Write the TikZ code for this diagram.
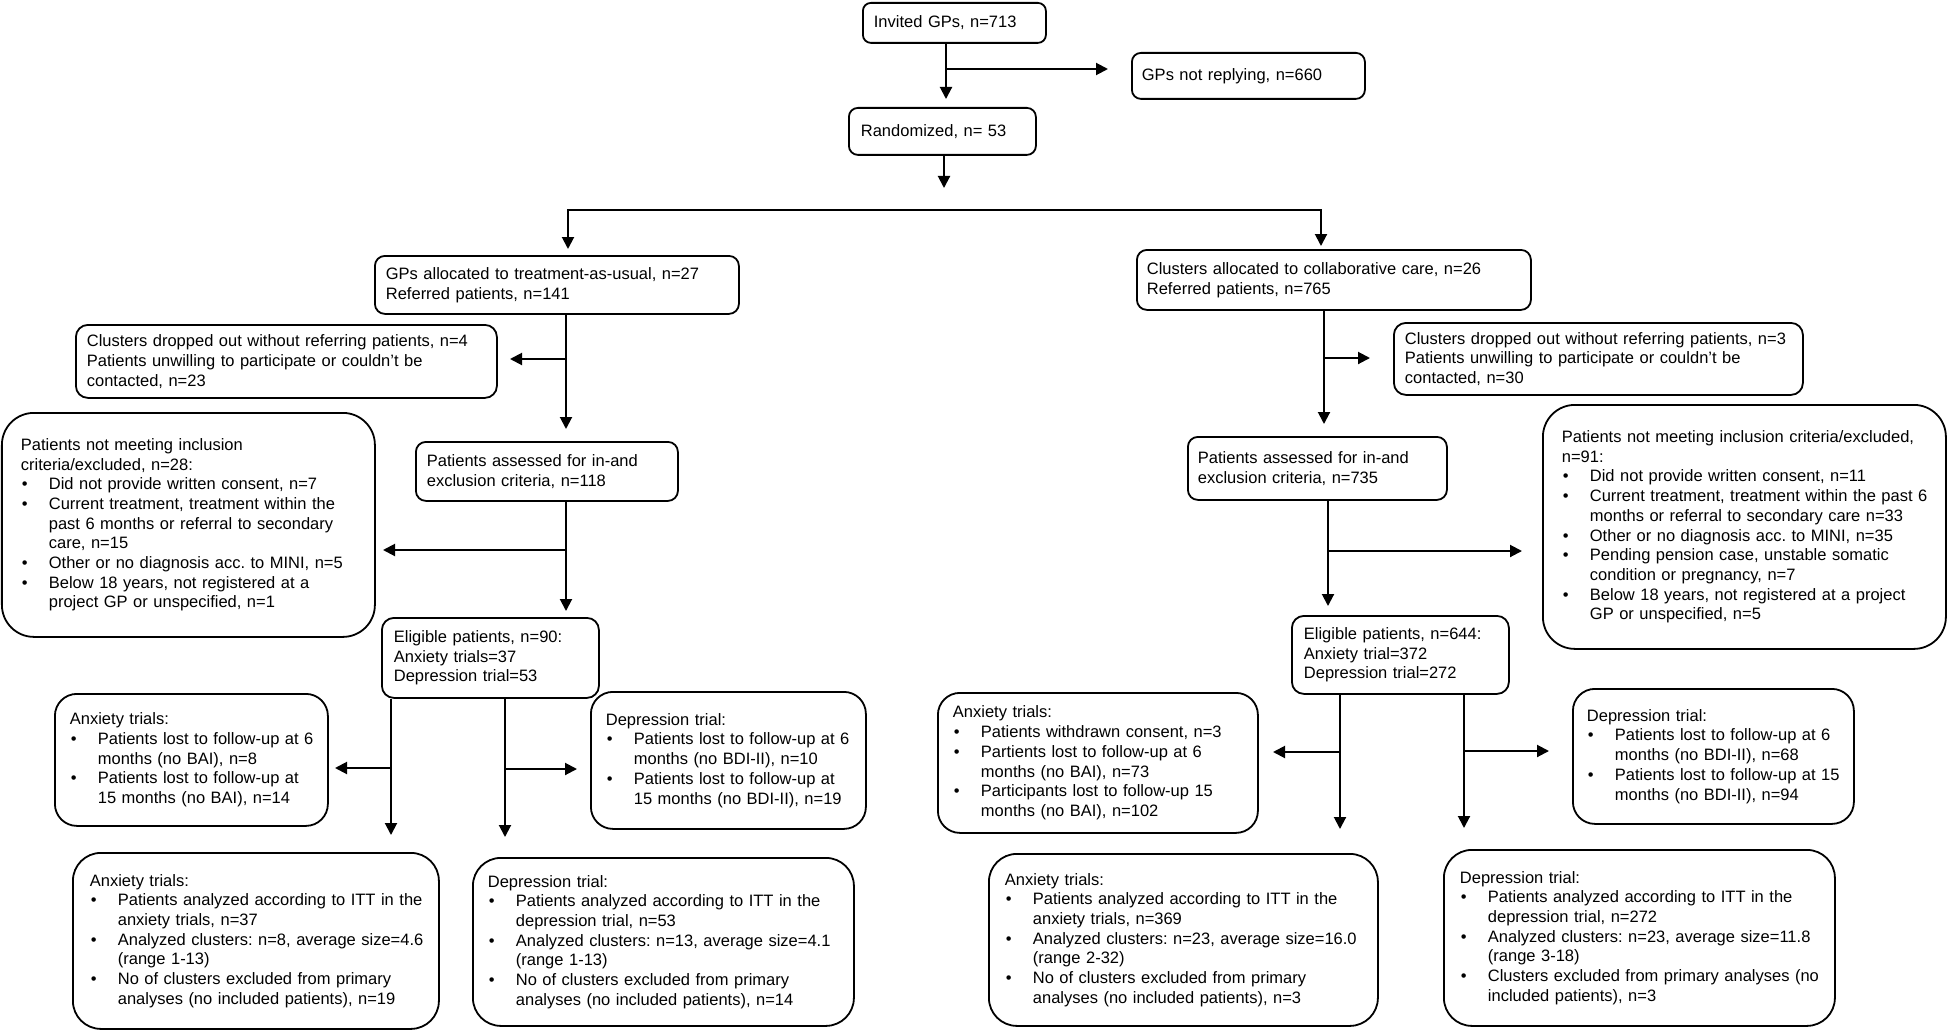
\documentclass[tikz,border=0pt]{standalone}
\usepackage{fontspec}
\setmainfont{Liberation Sans}
\usetikzlibrary{arrows.meta}
\newcommand{\bul}[1]{\makebox[28pt][l]{\hspace{1pt}•}#1}
\newcommand{\cont}[1]{\hspace*{28pt}#1}
\tikzset{
  cbox/.style={draw=black, line width=1.8pt, rounded corners=#1, anchor=north west,
    inner xsep=0pt, inner ysep=0pt, align=left,
    font=\fontsize{16.5}{19.7}\selectfont\frenchspacing},
  lpad/.style={execute at begin node={\leftskip=#1pt\relax}},
  arr/.style={line width=2pt, -{Triangle[length=12pt,width=12pt]}},
  arrtwo/.style={line width=2pt, {Triangle[length=12pt,width=12pt]}-{Triangle[length=12pt,width=12pt]}},
}
\begin{document}
\begin{tikzpicture}[x=1pt,y=-1pt]
\useasboundingbox (0,0) rectangle (1947,1030);
\fill[white] (0,0) rectangle (1947,1030);

% ---------- boxes ----------
\node[cbox=8pt, lpad=11, minimum width=183pt, minimum height=40pt, text width=183pt] (inv) at (862,2) {Invited GPs, n=713};
\node[cbox=9pt, lpad=10, minimum width=233pt, minimum height=46pt, text width=233pt] (norep) at (1131,52) {GPs not replying, n=660};
\node[cbox=9pt, lpad=12, minimum width=187pt, minimum height=47pt, text width=187pt] (rand) at (848,107) {Randomized, n= 53};

\node[cbox=10pt, lpad=11, minimum width=364pt, minimum height=58pt, text width=364pt] (tau) at (374,255)
 {GPs allocated to treatment-as-usual, n=27\\Referred patients, n=141};
\node[cbox=10pt, lpad=10, minimum width=394pt, minimum height=60pt, text width=394pt] (cc) at (1136,249)
 {Clusters allocated to collaborative care, n=26\\Referred patients, n=765};

\node[cbox=12pt, lpad=11, minimum width=421pt, minimum height=73pt, text width=421pt] (dropL) at (75,324)
 {Clusters dropped out without referring patients, n=4\\Patients unwilling to participate or couldn’t be\\contacted, n=23};
\node[cbox=12pt, lpad=11, minimum width=409pt, minimum height=72pt, text width=409pt] (dropR) at (1393,322)
 {Clusters dropped out without referring patients, n=3\\Patients unwilling to participate or couldn’t be\\contacted, n=30};

\node[cbox=32pt, lpad=19, minimum width=373pt, minimum height=224pt, text width=373pt] (exclL) at (1,412)
 {Patients not meeting inclusion\\
  criteria/excluded, n=28:\\
  \bul{Did not provide written consent, n=7}\\
  \bul{Current treatment, treatment within the}\\
  \cont{past 6 months or referral to secondary}\\
  \cont{care, n=15}\\
  \bul{Other or no diagnosis acc. to MINI, n=5}\\
  \bul{Below 18 years, not registered at a}\\
  \cont{project GP or unspecified, n=1}};

\node[cbox=10pt, lpad=11, minimum width=262pt, minimum height=59pt, text width=262pt] (assL) at (415,441)
 {Patients assessed for in-and\\exclusion criteria, n=118};
\node[cbox=10pt, lpad=10, minimum width=259pt, minimum height=63pt, text width=259pt] (assR) at (1187,436)
 {Patients assessed for in-and\\exclusion criteria, n=735};

\node[cbox=32pt, lpad=19, minimum width=403pt, minimum height=244pt, text width=403pt] (exclR) at (1542,404)
 {Patients not meeting inclusion criteria/excluded,\\
  n=91:\\
  \bul{Did not provide written consent, n=11}\\
  \bul{Current treatment, treatment within the past 6}\\
  \cont{months or referral to secondary care n=33}\\
  \bul{Other or no diagnosis acc. to MINI, n=35}\\
  \bul{Pending pension case, unstable somatic}\\
  \cont{condition or pregnancy, n=7}\\
  \bul{Below 18 years, not registered at a project}\\
  \cont{GP or unspecified, n=5}};

\node[cbox=12pt, lpad=12, minimum width=217pt, minimum height=80pt, text width=217pt] (eligL) at (381,617)
 {Eligible patients, n=90:\\Anxiety trials=37\\Depression trial=53};
\node[cbox=12pt, lpad=12, minimum width=217pt, minimum height=78pt, text width=217pt] (eligR) at (1291,615)
 {Eligible patients, n=644:\\Anxiety trial=372\\Depression trial=272};

\node[cbox=22pt, lpad=15, minimum width=273pt, minimum height=132pt, text width=273pt] (anxL) at (54,693)
 {Anxiety trials:\\
  \bul{Patients lost to follow-up at 6}\\
  \cont{months (no BAI), n=8}\\
  \bul{Patients lost to follow-up at}\\
  \cont{15 months (no BAI), n=14}};
\node[cbox=22pt, lpad=15, minimum width=275pt, minimum height=137pt, text width=275pt] (depL) at (590,691)
 {Depression trial:\\
  \bul{Patients lost to follow-up at 6}\\
  \cont{months (no BDI-II), n=10}\\
  \bul{Patients lost to follow-up at}\\
  \cont{15 months (no BDI-II), n=19}};
\node[cbox=22pt, lpad=15, minimum width=320pt, minimum height=140pt, text width=320pt] (anxR) at (937,692)
 {Anxiety trials:\\
  \bul{Patients withdrawn consent, n=3}\\
  \bul{Partients lost to follow-up at 6}\\
  \cont{months (no BAI), n=73}\\
  \bul{Participants lost to follow-up 15}\\
  \cont{months (no BAI), n=102}};
\node[cbox=22pt, lpad=14, minimum width=281pt, minimum height=135pt, text width=281pt] (depR) at (1572,688)
 {Depression trial:\\
  \bul{Patients lost to follow-up at 6}\\
  \cont{months (no BDI-II), n=68}\\
  \bul{Patients lost to follow-up at 15}\\
  \cont{months (no BDI-II), n=94}};

\node[cbox=28pt, lpad=17, minimum width=366pt, minimum height=176pt, text width=366pt] (fanxL) at (72,852)
 {Anxiety trials:\\
  \bul{Patients analyzed according to ITT in the}\\
  \cont{anxiety trials, n=37}\\
  \bul{Analyzed clusters: n=8, average size=4.6}\\
  \cont{(range 1-13)}\\
  \bul{No of clusters excluded from primary}\\
  \cont{analyses (no included patients), n=19}};
\node[cbox=28pt, lpad=15, minimum width=381pt, minimum height=168pt, text width=381pt] (fdepL) at (472,857)
 {Depression trial:\\
  \bul{Patients analyzed according to ITT in the}\\
  \cont{depression trial, n=53}\\
  \bul{Analyzed clusters: n=13, average size=4.1}\\
  \cont{(range 1-13)}\\
  \bul{No of clusters excluded from primary}\\
  \cont{analyses (no included patients), n=14}};
\node[cbox=28pt, lpad=16, minimum width=389pt, minimum height=172pt, text width=389pt] (fanxR) at (988,853)
 {Anxiety trials:\\
  \bul{Patients analyzed according to ITT in the}\\
  \cont{anxiety trials, n=369}\\
  \bul{Analyzed clusters: n=23, average size=16.0}\\
  \cont{(range 2-32)}\\
  \bul{No of clusters excluded from primary}\\
  \cont{analyses (no included patients), n=3}};
\node[cbox=28pt, lpad=16, minimum width=391pt, minimum height=176pt, text width=391pt] (fdepR) at (1443,849)
 {Depression trial:\\
  \bul{Patients analyzed according to ITT in the}\\
  \cont{depression trial, n=272}\\
  \bul{Analyzed clusters: n=23, average size=11.8}\\
  \cont{(range 3-18)}\\
  \bul{Clusters excluded from primary analyses (no}\\
  \cont{included patients), n=3}};

% ---------- connectors ----------
\coordinate (p1) at (946,69);
\coordinate (p1t) at (946,99);
\coordinate (p2t) at (1108,69);
\draw[arr] (inv.south -| p1) -- (p1t);
\draw[arr] (p1) -- (p2t);

\coordinate (p3t) at (944,188);
\draw[arr] (rand.south -| p3t) -- (p3t);

\coordinate (hl) at (568,210);
\coordinate (hr) at (1321,210);
\coordinate (hlt) at (568,249);
\coordinate (hrt) at (1321,246);
\draw[arrtwo] (hlt) -- (hl) -- (hr) -- (hrt);

% left column
\coordinate (a1) at (566,359);
\coordinate (a1t) at (566,429);
\coordinate (a2t) at (510,359);
\draw[arr] (tau.south -| a1) -- (a1t);
\draw[arr] (a1) -- (a2t);

\coordinate (b1) at (566,550);
\coordinate (b1t) at (566,611);
\coordinate (b2t) at (383,550);
\draw[arr] (assL.south -| b1) -- (b1t);
\draw[arr] (b1) -- (b2t);

\coordinate (c1) at (391,768);
\coordinate (c1t) at (391,835);
\coordinate (c2t) at (335,768);
\draw[arr] (eligL.south -| c1) -- (c1t);
\draw[arr] (c1) -- (c2t);

\coordinate (d1) at (505,769);
\coordinate (d1t) at (505,837);
\coordinate (d2t) at (577,769);
\draw[arr] (eligL.south -| d1) -- (d1t);
\draw[arr] (d1) -- (d2t);

% right column
\coordinate (e1) at (1324,358);
\coordinate (e1t) at (1324,424);
\coordinate (e2t) at (1370,358);
\draw[arr] (cc.south -| e1) -- (e1t);
\draw[arr] (e1) -- (e2t);

\coordinate (f1) at (1328,551);
\coordinate (f1t) at (1328,606);
\coordinate (f2t) at (1522,551);
\draw[arr] (assR.south -| f1) -- (f1t);
\draw[arr] (f1) -- (f2t);

\coordinate (g1) at (1340,752);
\coordinate (g1t) at (1340,829);
\coordinate (g2t) at (1273,752);
\draw[arr] (eligR.south -| g1) -- (g1t);
\draw[arr] (g1) -- (g2t);

\coordinate (h1) at (1464,751);
\coordinate (h1t) at (1464,828);
\coordinate (h2t) at (1549,751);
\draw[arr] (eligR.south -| h1) -- (h1t);
\draw[arr] (h1) -- (h2t);
\end{tikzpicture}
\end{document}
